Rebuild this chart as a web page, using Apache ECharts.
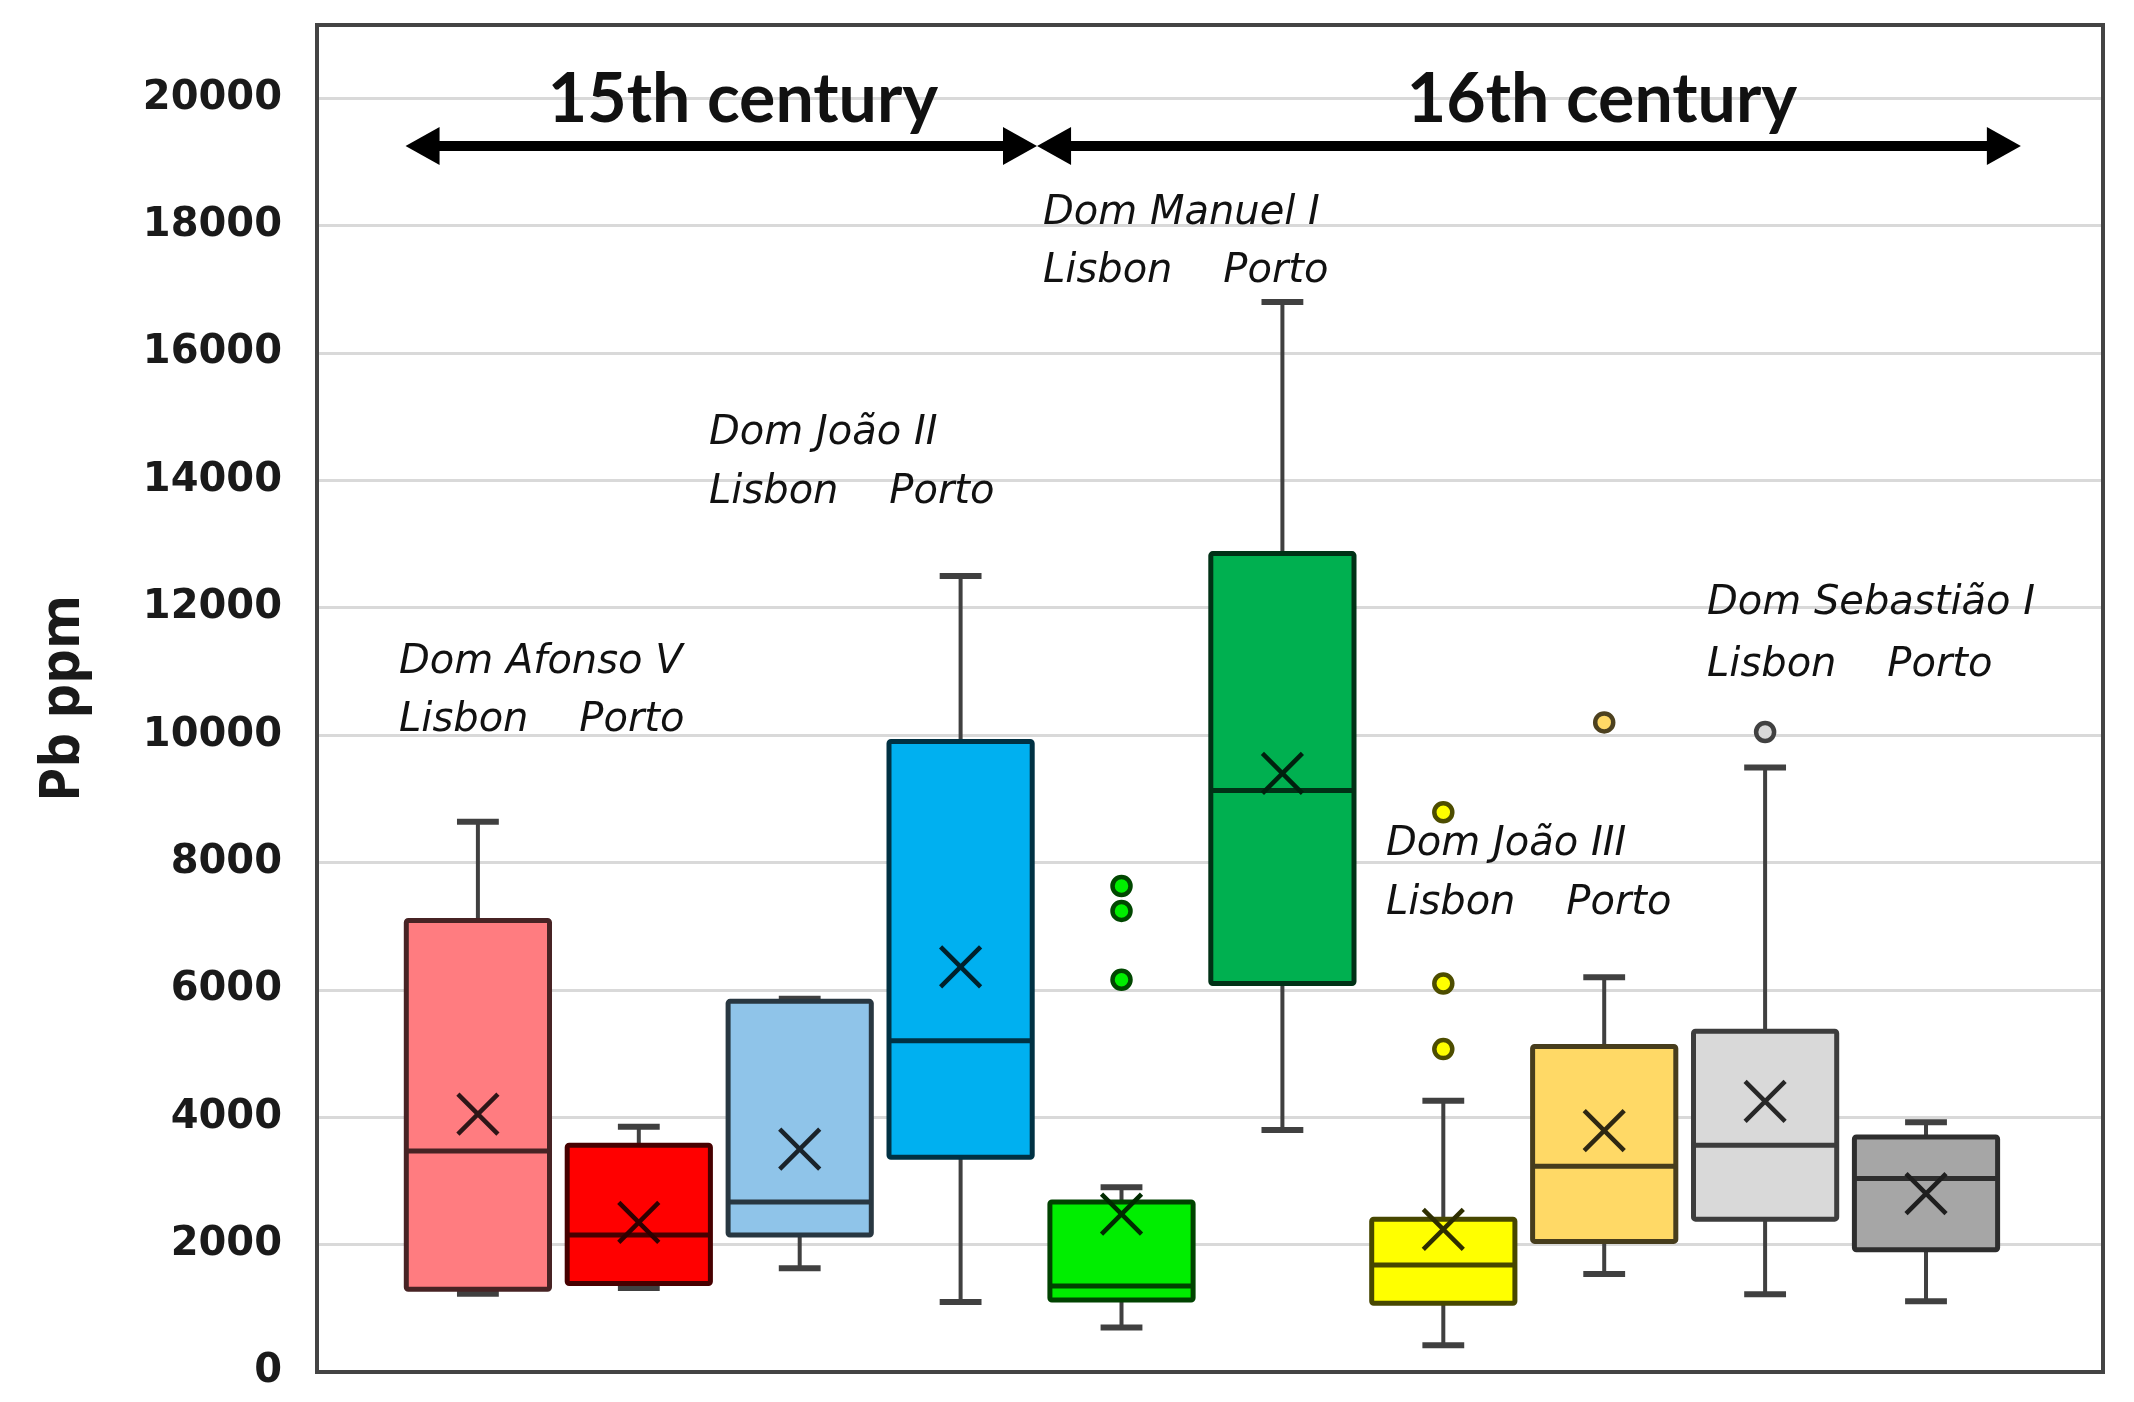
<!DOCTYPE html>
<html>
<head>
<meta charset="utf-8">
<script src="https://cdn.jsdelivr.net/npm/echarts@6/dist/echarts.min.js"></script>
<style>
  html, body { margin: 0; padding: 0; background: #fff; }
  #chart { width: 2134px; height: 1402px; }
</style>
</head>
<body>
<div id="chart"></div>
<script>
// one box per reign and city, left to right
var groups = ['Dom Afonso V Lisbon', 'Dom Afonso V Porto', 'Dom João II Lisbon', 'Dom João II Porto',
              'Dom Manuel I Lisbon', 'Dom Manuel I Porto', 'Dom João III Lisbon', 'Dom João III Porto',
              'Dom Sebastião I Lisbon', 'Dom Sebastião I Porto'];
var positions   = [1, 2, 3, 4, 5, 6, 7, 8, 9, 10];
var whiskerLow  = [1230, 1320, 1630, 1100, 700, 3800, 420, 1540, 1220, 1110];
var q1          = [1300, 1390, 2150, 3370, 1130, 6100, 1080, 2050, 2400, 1920];
var median      = [3470, 2150, 2670, 5200, 1350, 9130, 1680, 3230, 3560, 3040];
var q3          = [7090, 3560, 5820, 9900, 2670, 12850, 2400, 5110, 5350, 3690];
var whiskerHigh = [8640, 3850, 5860, 12500, 2900, 16800, 4260, 6200, 9490, 3920];
var mean        = [4050, 2350, 3500, 6360, 2480, 9400, 2240, 3790, 4250, 2800];

// outliers: index of the box they belong to, and value
var outlierBox   = [4, 4, 4, 6, 6, 6, 7, 8];
var outlierValue = [7630, 7240, 6160, 8790, 6100, 5070, 10200, 10050];

var yTicks = [0, 2000, 4000, 6000, 8000, 10000, 12000, 14000, 16000, 18000, 20000];

var fills = ['#FF7C80', '#FF0000', '#8FC4E9', '#00B0F0', '#00EE00',
             '#00B050', '#FFFF00', '#FFD966', '#D9D9D9', '#A6A6A6'];

function shade(hex, k) {
    var n = parseInt(hex.slice(1), 16);
    var r = Math.round(((n >> 16) & 255) * k);
    var g = Math.round(((n >> 8) & 255) * k);
    var b = Math.round((n & 255) * k);
    return 'rgb(' + r + ',' + g + ',' + b + ')';
}

var boxData = groups.map(function (g, i) {
    return [positions[i], whiskerLow[i], q1[i], median[i], q3[i], whiskerHigh[i], mean[i], i];
});

var outlierData = outlierBox.map(function (b, k) {
    return {
        value: [positions[b], outlierValue[k]],
        itemStyle: { color: fills[b], borderColor: shade(fills[b], 0.3) }
    };
});

var BOX_W = 0.89, CAP_W = 0.26;
var G = { left: 317, right: 31, top: 25, bottom: 30 };

var chart = echarts.init(document.getElementById('chart'));

var option = {
    backgroundColor: '#fff',
    animation: false,
    grid: { left: G.left, right: G.right, top: G.top, bottom: G.bottom },
    xAxis: {
        type: 'value', min: 0, max: 11.1,
        axisLine: { show: false }, axisTick: { show: false },
        axisLabel: { show: false }, splitLine: { show: false }
    },
    yAxis: {
        type: 'value', min: 0, max: 21150, interval: 2000,
        name: 'Pb ppm',
        nameLocation: 'middle',
        nameRotate: 90,
        nameGap: 226,
        nameTextStyle: { fontFamily: 'Open Sans', fontWeight: 'bold', fontSize: 55, color: '#1a1a1a' },
        axisLine: { show: false }, axisTick: { show: false },
        axisLabel: {
            margin: 35, showMaxLabel: false,
            fontFamily: 'DejaVu Sans', fontWeight: 'bold', fontSize: 40, color: '#1a1a1a',
            formatter: function (v) { return yTicks.indexOf(v) >= 0 ? String(v) : ''; }
        },
        splitLine: { lineStyle: { color: '#D9D9D9', width: 3 } }
    },
    series: [
        {
            type: 'custom',
            name: 'box',
            data: boxData,
            encode: { x: 0, y: [1, 2, 3, 4, 5] },
            renderItem: function (params, api) {
                var x = api.value(0);
                var i = api.value(7);
                var pLow = api.coord([x, api.value(1)]);
                var pQ1 = api.coord([x, api.value(2)]);
                var pMed = api.coord([x, api.value(3)]);
                var pQ3 = api.coord([x, api.value(4)]);
                var pHigh = api.coord([x, api.value(5)]);
                var pMean = api.coord([x, api.value(6)]);
                var cx = pQ1[0];
                var half = api.size([BOX_W, 0])[0] / 2;
                var cap = api.size([CAP_W, 0])[0] / 2;
                var m = 20;
                var edge = shade(fills[i], 0.28);
                var cross = { stroke: shade(fills[i], 0.18), lineWidth: 4.5 };
                var whisk = { stroke: '#404040', lineWidth: 4 };
                var capStyle = { stroke: '#404040', lineWidth: 6 };
                return {
                    type: 'group',
                    children: [
                        { type: 'line', shape: { x1: cx, y1: pHigh[1], x2: cx, y2: pLow[1] }, style: whisk },
                        { type: 'line', shape: { x1: cx - cap, y1: pHigh[1], x2: cx + cap, y2: pHigh[1] }, style: capStyle },
                        { type: 'line', shape: { x1: cx - cap, y1: pLow[1], x2: cx + cap, y2: pLow[1] }, style: capStyle },
                        { type: 'rect', shape: { x: cx - half, y: pQ3[1], width: half * 2, height: pQ1[1] - pQ3[1], r: 2 },
                          style: { fill: fills[i], stroke: edge, lineWidth: 5 } },
                        { type: 'line', shape: { x1: cx - half, y1: pMed[1], x2: cx + half, y2: pMed[1] }, style: { stroke: edge, lineWidth: 5 } },
                        { type: 'line', shape: { x1: cx - m, y1: pMean[1] - m, x2: cx + m, y2: pMean[1] + m }, style: cross },
                        { type: 'line', shape: { x1: cx - m, y1: pMean[1] + m, x2: cx + m, y2: pMean[1] - m }, style: cross }
                    ]
                };
            },
            z: 2
        },
        {
            type: 'scatter',
            name: 'outliers',
            data: outlierData,
            symbol: 'circle',
            symbolSize: 18,
            itemStyle: { borderWidth: 4.5, opacity: 1 },
            z: 3,
            markLine: {
                silent: true,
                symbol: ['triangle', 'triangle'],
                symbolSize: [38, 34],
                label: { show: false },
                lineStyle: { color: '#000', width: 10, type: 'solid' },
                data: [
                    [{ coord: [0.656, 19250] }, { coord: [4.369, 19250] }],
                    [{ coord: [4.581, 19250] }, { coord: [10.484, 19250] }]
                ]
            }
        }
    ],
    graphic: [
        // plot frame, drawn above the grid lines
        {
            type: 'rect', z: 20, silent: true,
            shape: { x: G.left, y: G.top, width: 2134 - G.left - G.right, height: 1402 - G.top - G.bottom },
            style: { fill: 'none', stroke: '#444', lineWidth: 4 }
        }
    ]
};

// period titles and reign captions
var titleFont = 'bold 68px Lato';
var capFont = 'italic 40px "DejaVu Sans"';
var texts = [
    { t: '15th century', x: 743, y: 100, font: titleFont, align: 'center' },
    { t: '16th century', x: 1602, y: 100, font: titleFont, align: 'center' },
    { t: 'Dom Afonso V', x: 399, y: 663, font: capFont, align: 'left' },
    { t: 'Lisbon    Porto', x: 399, y: 721, font: capFont, align: 'left' },
    { t: 'Dom João II', x: 709, y: 434, font: capFont, align: 'left' },
    { t: 'Lisbon    Porto', x: 709, y: 493, font: capFont, align: 'left' },
    { t: 'Dom Manuel I', x: 1043, y: 214, font: capFont, align: 'left' },
    { t: 'Lisbon    Porto', x: 1043, y: 272, font: capFont, align: 'left' },
    { t: 'Dom João III', x: 1386, y: 845, font: capFont, align: 'left' },
    { t: 'Lisbon    Porto', x: 1386, y: 904, font: capFont, align: 'left' },
    { t: 'Dom Sebastião I', x: 1707, y: 604, font: capFont, align: 'left' },
    { t: 'Lisbon    Porto', x: 1707, y: 666, font: capFont, align: 'left' }
];
texts.forEach(function (d) {
    option.graphic.push({
        type: 'text', x: d.x, y: d.y, z: 10, silent: true,
        style: {
            text: d.t, font: d.font, fill: '#111',
            textAlign: d.align, textVerticalAlign: 'middle',
            align: d.align, verticalAlign: 'middle'
        }
    });
});

chart.setOption(option);
</script>
</body>
</html>
